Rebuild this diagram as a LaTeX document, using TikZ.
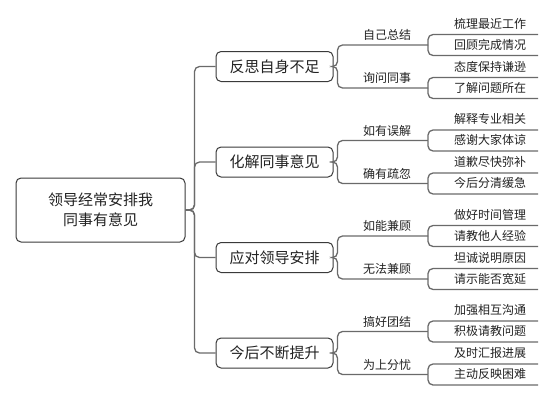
\documentclass[tikz,border=0pt]{standalone}
\usepackage{fontspec}
\newfontfamily\cjk{Noto Sans CJK SC}
\definecolor{boxc}{HTML}{3A3A3A}
\definecolor{linec}{HTML}{6A6A6A}
\definecolor{txt}{HTML}{222222}
\begin{document}
\begin{tikzpicture}[x=1pt,y=-1pt,
  box/.style={draw=boxc, line width=1pt, rounded corners=5pt, fill=white, text=txt,
    font=\cjk\fontsize{15}{20}\selectfont, inner sep=0pt},
  conn/.style={draw=linec, line width=1.3pt, rounded corners=5pt},
  lab/.style={text=txt, font=\cjk\fontsize{12}{14}\selectfont, inner sep=0pt}]
\useasboundingbox (0,0) rectangle (554,402);
\node[box, minimum width=169pt, minimum height=64pt, align=center] (root) at (100.5,210)
  {领导经常安排我\\同事有意见};
\foreach \i/\Y/\T/\A/\B/\p/\q/\r/\s in {
 1/66.5/反思自身不足/自己总结/询问同事/梳理最近工作/回顾完成情况/态度保持谦逊/了解问题所在,
 2/162/化解同事意见/如有误解/确有疏忽/解释专业相关/感谢大家体谅/道歉尽快弥补/今后分清缓急,
 3/257.5/应对领导安排/如能兼顾/无法兼顾/做好时间管理/请教他人经验/坦诚说明原因/请示能否宽延,
 4/353/今后不断提升/搞好团结/为上分忧/加强相互沟通/积极请教问题/及时汇报进展/主动反映困难}
{
  \node[box, minimum width=117pt, minimum height=30pt] (b\i) at (274.5,\Y) {\T};
  \draw[conn] (root.east) -- ++(9,0) |- (b\i.west);
  % level 2
  \node[lab] (la\i) at (387,\Y-31.5) {\A};
  \node[lab] (lb\i) at (387,\Y+11.5) {\B};
  \coordinate (ea\i) at (428,\Y-21.5);
  \coordinate (eb\i) at (428,\Y+21.5);
  \draw[conn] (b\i.east) -- ++(4,0) |- (ea\i);
  \draw[conn] (b\i.east) -- ++(4,0) |- (eb\i);
  % level 3
  \node[lab] (p\i) at (490,\Y-43) {\p};
  \node[lab] (q\i) at (490,\Y-22) {\q};
  \node[lab] (r\i) at (490,\Y+0) {\r};
  \node[lab] (s\i) at (490,\Y+21) {\s};
  \coordinate (ep\i) at (538,\Y-32);
  \coordinate (eq\i) at (538,\Y-11);
  \coordinate (er\i) at (538,\Y+11);
  \coordinate (es\i) at (538,\Y+32);
  \draw[conn] (ea\i) |- (ep\i);
  \draw[conn] (ea\i) |- (eq\i);
  \draw[conn] (eb\i) |- (er\i);
  \draw[conn] (eb\i) |- (es\i);
}
\end{tikzpicture}
\end{document}
